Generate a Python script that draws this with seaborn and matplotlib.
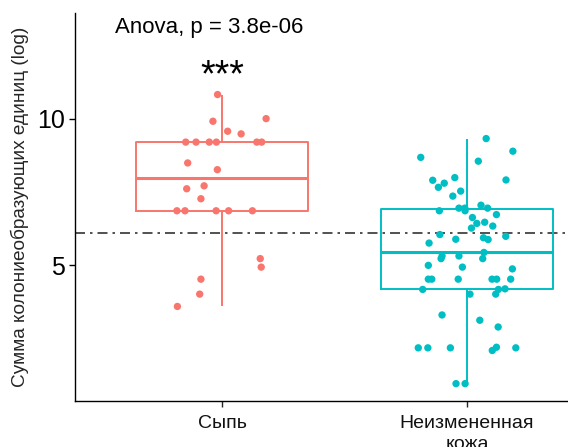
import matplotlib
matplotlib.use('Agg')
import matplotlib.pyplot as plt
import seaborn as sns
import pandas as pd
import numpy as np

groups = ['Сыпь', 'Неизмененная\nкожа']
colors = ['#F8766D', '#00BFC4']

# values (log CFU sum) with their horizontal jitter
rash_values = [10.82, 9.91, 10.0, 9.57, 9.48, 9.2, 9.2, 9.2, 9.2, 9.2, 9.2,
               8.49, 8.26, 7.61, 7.71, 7.27, 6.86, 6.86, 6.86, 6.86, 6.86,
               5.23, 4.94, 4.53, 4.02, 3.60]
rash_jitter = [-0.018, -0.037, 0.180, 0.023, 0.078, -0.148, -0.106, -0.052, -0.023,
               0.142, 0.162, -0.140, -0.019, -0.144, -0.073, -0.086, -0.184, -0.151,
               -0.024, 0.027, 0.124, 0.156, 0.160, -0.086, -0.091, -0.182]

skin_values = [9.32, 8.89, 8.68, 8.55, 7.90, 7.91, 7.99, 7.80, 7.66, 7.53, 7.36,
               7.05, 6.95, 6.95, 6.95, 6.86, 6.86, 6.73, 6.63, 6.47, 6.43, 6.34,
               6.27, 6.05, 5.99, 5.94, 5.88, 5.89, 5.76, 5.44, 5.32, 5.23, 5.32,
               5.23, 5.00, 4.94, 4.88, 4.53, 4.53, 4.53, 4.53, 4.53, 4.53, 4.20,
               4.18, 4.18, 4.02, 4.02, 3.31, 3.13, 2.90, 2.19, 2.19, 2.19, 2.21,
               2.10, 2.19, 0.97, 0.97]
skin_jitter = [0.078, 0.187, -0.189, 0.046, -0.140, 0.159, -0.050, -0.093, -0.117,
               -0.026, -0.058, 0.057, 0.084, -0.033, -0.009, -0.008, -0.113, 0.120,
               0.022, 0.072, 0.040, 0.105, 0.018, -0.111, 0.158, 0.067, 0.086,
               -0.046, -0.155, 0.069, -0.102, -0.106, -0.033, 0.064, -0.158, -0.019,
               0.185, -0.158, -0.144, -0.036, 0.102, 0.121, 0.178, 0.155, -0.181,
               0.128, 0.012, 0.117, -0.102, 0.052, 0.127, -0.199, -0.160, -0.068,
               0.120, 0.103, 0.199, -0.045, -0.008]

p_label = 'Anova, p = 3.8e-06'
signif = '***'

df = pd.DataFrame({
    'group': [groups[0]] * len(rash_values) + [groups[1]] * len(skin_values),
    'value': rash_values + skin_values,
    'jitter': rash_jitter + skin_jitter,
})
df['group'] = pd.Categorical(df['group'], categories=groups)
df['xpos'] = df['group'].cat.codes + df['jitter']

sns.set_style('white')
plt.rcParams['font.family'] = ['Liberation Sans', 'DejaVu Sans']

fig = plt.figure(figsize=(5.68, 4.47), dpi=100)
ax = fig.add_axes([0.132, 0.103, 0.868, 0.868])

ax.axhline(df['value'].mean(), color='#333333', lw=1.2,
           ls=(0, (6, 3, 1.5, 3)), zorder=1)

sns.boxplot(data=df, x='group', y='value', hue='group', palette=colors,
            fill=False, width=0.7, whis=1.5, showfliers=False, showcaps=False,
            linewidth=1.4, medianprops={'linewidth': 2.2},
            legend=False, ax=ax, zorder=2)

sns.scatterplot(data=df, x='xpos', y='value', hue='group', palette=colors,
                s=28, linewidth=0, legend=False, ax=ax, zorder=3)

ax.text(-0.437, 13.1, p_label, ha='left', va='center', fontsize=16, color='black')
ax.text(0, 11.45, signif, ha='center', va='center', fontsize=27, color='black')

ax.set_xlim(-0.6, 1.412)
ax.set_ylim(0.38, 13.6)
ax.set_yticks([5, 10])
ax.set_xticks([0, 1])
ax.set_xticklabels(groups, fontsize=14, color='#111111', linespacing=1.35)
ax.tick_params(axis='y', labelsize=18, length=4, width=1, colors='black',
               direction='out', left=True, pad=3)
ax.tick_params(axis='x', length=4, width=1, direction='out', bottom=True, pad=6)
ax.set_xlabel('')
ax.set_ylabel('Сумма колониеобразующих единиц (log)', fontsize=13.7, labelpad=6)
for side in ['top', 'right']:
    ax.spines[side].set_visible(False)
for side in ['left', 'bottom']:
    ax.spines[side].set_color('black')
    ax.spines[side].set_linewidth(1)

fig.savefig('out.png', dpi=100)
